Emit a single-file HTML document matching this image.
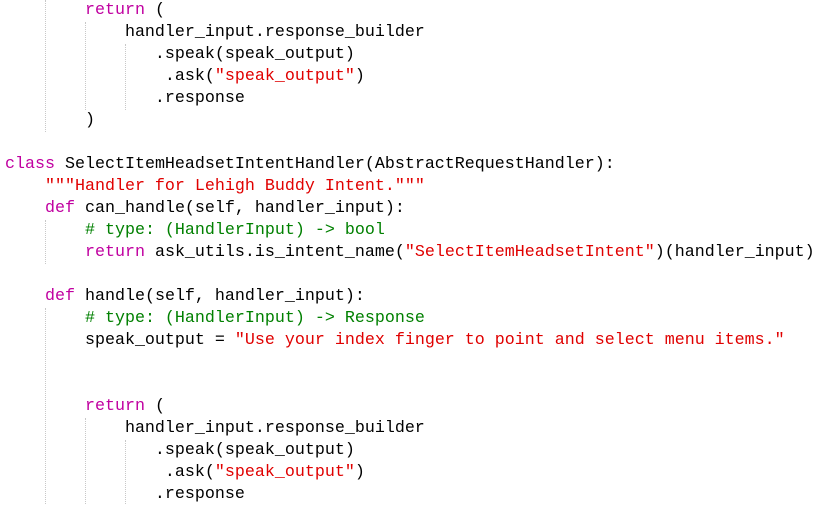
<!DOCTYPE html>
<html><head><meta charset="utf-8"><style>
html,body{margin:0;padding:0;background:#fff;width:824px;height:504px;overflow:hidden}
#c{position:absolute;left:5px;top:0px;font-family:"Liberation Mono",monospace;font-size:16.67px;line-height:22px;white-space:pre;color:#000}
.k{color:#c000a0}.s{color:#e00000}.c{color:#008000}
.g{position:absolute;width:0;border-left:1px dotted #c8c8c8}
</style></head><body>
<div class="g" style="left:45px;top:0px;height:132px"></div>
<div class="g" style="left:85px;top:22px;height:88px"></div>
<div class="g" style="left:125px;top:44px;height:66px"></div>
<div class="g" style="left:45px;top:220px;height:44px"></div>
<div class="g" style="left:45px;top:308px;height:196px"></div>
<div class="g" style="left:85px;top:418px;height:86px"></div>
<div class="g" style="left:125px;top:440px;height:64px"></div>
<div id="c">        <span class="k">return</span> (
            handler_input.response_builder
               .speak(speak_output)
                .ask(<span class="s">"speak_output"</span>)
               .response
        )

<span class="k">class</span> SelectItemHeadsetIntentHandler(AbstractRequestHandler):
    <span class="s">"""Handler for Lehigh Buddy Intent."""</span>
    <span class="k">def</span> can_handle(self, handler_input):
        <span class="c"># type: (HandlerInput) -&gt; bool</span>
        <span class="k">return</span> ask_utils.is_intent_name(<span class="s">"SelectItemHeadsetIntent"</span>)(handler_input)

    <span class="k">def</span> handle(self, handler_input):
        <span class="c"># type: (HandlerInput) -&gt; Response</span>
        speak_output = <span class="s">"Use your index finger to point and select menu items."</span>


        <span class="k">return</span> (
            handler_input.response_builder
               .speak(speak_output)
                .ask(<span class="s">"speak_output"</span>)
               .response
</div>
</body></html>
